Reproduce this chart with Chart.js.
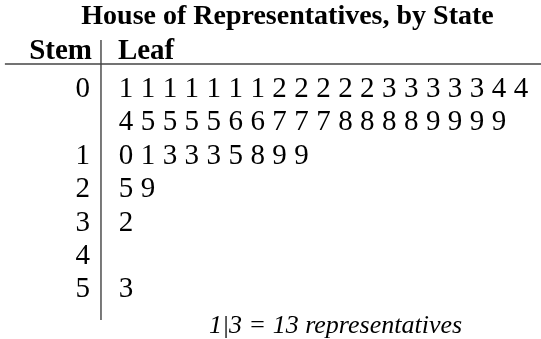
<!DOCTYPE html>
<html>
<head>
<meta charset="utf-8">
<script src="https://cdn.jsdelivr.net/npm/chart.js@4/dist/chart.umd.min.js"></script>
<style>
  html, body { margin: 0; padding: 0; background: #fff; }
  canvas { display: block; }
</style>
</head>
<body>
<canvas id="stemChart" width="541" height="339"></canvas>
<script>
// 줄기-잎 데이터
const title = 'House of Representatives, by State';
const headers = ['Stem', 'Leaf'];
const stems = ['0', '', '1', '2', '3', '4', '5'];
const leaves = [
    [1, 1, 1, 1, 1, 1, 1, 2, 2, 2, 2, 2, 3, 3, 3, 3, 3, 4, 4],
    [4, 5, 5, 5, 5, 6, 6, 7, 7, 7, 8, 8, 8, 8, 9, 9, 9, 9],
    [0, 1, 3, 3, 3, 5, 8, 9, 9],
    [5, 9],
    [2],
    [],
    [3]
];
const keyText = '1|3 = 13 representatives';

// 배치용 값 (축 단위: x = 잎 칸, y = 줄)
const FONT = "'Liberation Serif', 'Times New Roman', serif";
const stemX = -1.64;
const ruleX = -1.14;
const headerY = -1.14;
const ruleY = -0.99;
const keyY = 7.07;

// 잎/줄기 점 만들기
const leafPoints = [];
leaves.forEach((row, r) => {
    row.forEach((d, c) => leafPoints.push({ x: c, y: r, text: String(d) }));
});
const stemPoints = stems.map((s, r) => ({ x: stemX, y: r, text: s }));

// 점 위치에 글자 그리기
const textPlugin = {
    id: 'stemLeafText',
    afterDatasetsDraw(chart) {
        const ctx = chart.ctx;
        ctx.save();
        chart.data.datasets.forEach((ds, i) => {
            if (!ds.textFont) return;
            const meta = chart.getDatasetMeta(i);
            ctx.font = ds.textFont;
            ctx.fillStyle = '#000';
            ctx.textBaseline = 'alphabetic';
            meta.data.forEach((pt, j) => {
                const p = ds.data[j];
                ctx.textAlign = p.align || ds.textAlign;
                ctx.fillText(p.text, pt.x, pt.y);
            });
        });
        ctx.restore();
    }
};

function textSet(data, font, align) {
    return {
        type: 'scatter',
        data: data,
        textFont: font,
        textAlign: align,
        pointRadius: 0,
        showLine: false,
        clip: false
    };
}

function rule(points, width, color) {
    return {
        type: 'line',
        data: points,
        borderColor: color,
        borderWidth: width,
        pointRadius: 0,
        fill: false,
        clip: false
    };
}

const ctx = document.getElementById('stemChart').getContext('2d');
new Chart(ctx, {
    data: {
        datasets: [
            rule([{ x: -5.52, y: ruleY }, { x: 18.95, y: ruleY }], 1.6, '#444'),
            rule([{ x: ruleX, y: -1.71 }, { x: ruleX, y: 6.68 }], 1.2, '#222'),
            textSet([
                { x: -1.55, y: headerY, text: headers[0], align: 'right' },
                { x: -0.37, y: headerY, text: headers[1], align: 'left' }
            ], 'bold 29px ' + FONT, 'left'),
            textSet(stemPoints, '29px ' + FONT, 'right'),
            textSet(leafPoints, '29px ' + FONT, 'center'),
            textSet([{ x: 9.55, y: keyY, text: keyText }], 'italic 26px ' + FONT, 'center')
        ]
    },
    options: {
        responsive: false,
        animation: false,
        events: [],
        devicePixelRatio: 1,
        layout: { padding: { left: 34, right: 0, top: 0, bottom: 0 } },
        scales: {
            x: { type: 'linear', display: false, min: -4.193, max: 18.915 },
            y: { type: 'linear', display: false, reverse: true, min: -1.898, max: 7.246 }
        },
        plugins: {
            legend: { display: false },
            tooltip: { enabled: false },
            title: {
                display: true,
                text: title,
                color: '#000',
                font: { family: FONT, size: 28, weight: 'bold', lineHeight: 1.2 },
                padding: { top: 0, bottom: 0 }
            }
        }
    },
    plugins: [textPlugin]
});
</script>
</body>
</html>
